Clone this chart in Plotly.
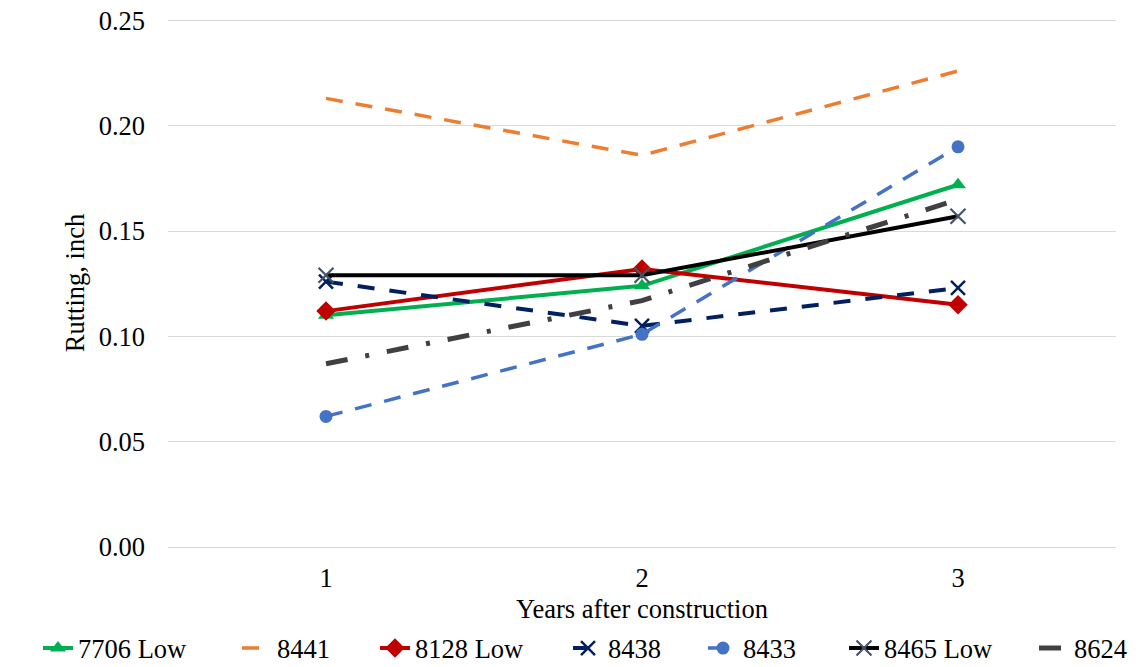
import plotly.graph_objects as go

# Years after construction
years = [1, 2, 3]
year_labels = ["1", "2", "3"]

# Rutting depth (inch) per section
rut_7706_low = [0.110, 0.124, 0.172]
rut_8441 = [0.213, 0.186, 0.226]
rut_8128_low = [0.112, 0.132, 0.115]
rut_8438 = [0.126, 0.105, 0.123]
rut_8433 = [0.062, 0.101, 0.190]
rut_8465_low = [0.129, 0.129, 0.157]
rut_8624 = [0.087, 0.117, 0.165]

y_ticks = [0.00, 0.05, 0.10, 0.15, 0.20, 0.25]

FONT = "Liberation Serif, Times New Roman, serif"
FS = 26.5

# left edge (px) of each legend entry along the bottom row
legend_left = [38, 237, 375, 568, 703, 844, 1034]

series = [
    dict(name="7706 Low", y=rut_7706_low, mode="lines+markers",
         line=dict(color="#00B050", width=4),
         marker=dict(symbol="triangle-up", size=14, color="#00B050")),
    dict(name="8441", y=rut_8441, mode="lines",
         line=dict(color="#ED7D31", width=3.5, dash="17px,13px")),
    dict(name="8128 Low", y=rut_8128_low, mode="lines+markers",
         line=dict(color="#C00000", width=4),
         marker=dict(symbol="diamond", size=15, color="#C00000")),
    dict(name="8438", y=rut_8438, mode="lines+markers",
         line=dict(color="#002060", width=4, dash="17px,15px"),
         marker=dict(symbol="x-thin", size=14, color="#002060",
                     line=dict(color="#002060", width=2.5))),
    dict(name="8433", y=rut_8433, mode="lines+markers",
         line=dict(color="#4472C4", width=3.5, dash="17px,13px"),
         marker=dict(symbol="circle", size=13, color="#4472C4")),
    dict(name="8465 Low", y=rut_8465_low, mode="lines+markers",
         line=dict(color="#000000", width=4),
         marker=dict(symbol="x-thin", size=15, color="#44546A",
                     line=dict(color="#44546A", width=2.2))),
    dict(name="8624", y=rut_8624, mode="lines",
         line=dict(color="#404040", width=5, dash="22px,18px,4px,18px")),
]

fig = go.Figure()
layout_legends = {}
for i, s in enumerate(series):
    key = "legend" if i == 0 else f"legend{i + 1}"
    fig.add_trace(go.Scatter(x=years, legend=key, **s))
    layout_legends[key] = dict(
        orientation="h", xref="container", yref="container",
        x=legend_left[i] / 1141, xanchor="left", y=0.028, yanchor="middle",
        font=dict(family=FONT, size=FS, color="black"),
        bgcolor="rgba(0,0,0,0)", borderwidth=0,
    )

fig.update_layout(
    width=1141, height=667,
    margin=dict(l=168, r=25, t=19, b=120, autoexpand=False),
    paper_bgcolor="white", plot_bgcolor="white",
    font=dict(family=FONT, size=FS, color="black"),
    showlegend=True,
    xaxis=dict(
        range=[0.5, 3.5], tickmode="array", tickvals=years, ticktext=year_labels,
        showgrid=False, zeroline=False, showline=False, ticks="",
        automargin=False, ticklabelstandoff=12,
        title=dict(text="Years after construction", standoff=10,
                   font=dict(family=FONT, size=FS, color="black")),
    ),
    yaxis=dict(
        range=[0, 0.2507], tickmode="array", tickvals=y_ticks, tickformat=".2f",
        showgrid=True, gridcolor="#D9D9D9", gridwidth=1.3,
        zeroline=True, zerolinecolor="#D9D9D9", zerolinewidth=1.3,
        showline=False, ticks="", automargin=False, ticklabelstandoff=22,
        title=dict(text="Rutting, inch", standoff=6,
                   font=dict(family=FONT, size=FS, color="black")),
    ),
    **layout_legends,
)

fig.write_html("out.html")
